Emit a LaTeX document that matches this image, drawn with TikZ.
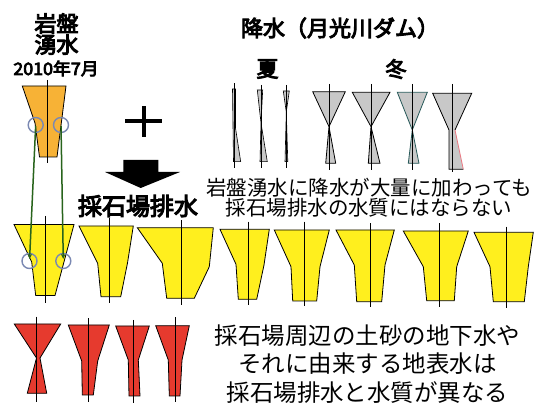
\documentclass[tikz,border=0pt]{standalone}
\usepackage{fontspec}
\usetikzlibrary{arrows.meta}
\newfontfamily\jp{Noto Sans CJK JP}
\newfontfamily\jpb{Noto Sans CJK JP}[FakeBold=4.5]
\definecolor{orangeF}{RGB}{247,178,54}
\definecolor{yellowF}{RGB}{255,239,30}
\definecolor{redF}{RGB}{230,58,46}
\definecolor{grayF}{RGB}{200,200,200}
\definecolor{circC}{RGB}{122,136,178}
\definecolor{greenC}{RGB}{40,100,28}
\definecolor{tealC}{RGB}{40,90,90}
\definecolor{pinkC}{RGB}{235,120,130}
\begin{document}
\begin{tikzpicture}[x=1pt,y=-1pt,
  outl/.style={draw=black,line width=0.8pt,line join=miter},
  ax/.style={draw=black,line width=1pt},
  circ/.style={circle,draw=circC,line width=1.4pt,minimum size=15pt,inner sep=0pt},
  garrow/.style={draw=greenC,line width=1.5pt,-{Stealth[length=5pt,width=4.5pt]}},
  btxt/.style={inner sep=0pt,font=\jpb},
  rtxt/.style={inner sep=0pt,font=\jp,align=center}]
\useasboundingbox (0,0) rectangle (539,403);
\fill[white] (0,0) rectangle (539,403);

% ---------- left column ----------
\node[btxt,font=\jpb\fontsize{22}{22}\selectfont] (t1) at (56.5,23.5) {岩盤};
\node[btxt,font=\jpb\fontsize{22}{22}\selectfont] (t2) at (56.5,44.5) {湧水};
\node[btxt,font=\jpb\fontsize{17}{17}\selectfont,xscale=1.05] (t3) at (56,68.5) {2010年7月};

% orange
\filldraw[outl,fill=orangeF] (22.3,86)--(66,86)--(57,157)--(39.5,157)--(35,123)--cycle;
\draw[ax] (47.5,80)--(47.5,163);

% yellow row
\filldraw[outl,fill=yellowF] (14,224.5)--(74,224.5)--(55,295.5)--(35.7,295.5)--(31.7,262)--cycle;
\draw[ax] (45,216)--(45,303);
\filldraw[outl,fill=yellowF] (79,226)--(133.3,226)--(127.5,263)--(120.7,296.7)--(101,296.7)--(97.7,263.3)--cycle;
\draw[ax] (109.3,218)--(109.3,302.7);
\filldraw[outl,fill=yellowF] (137.3,227.7)--(213.3,227.7)--(209.3,266.7)--(194.3,298.3)--(166.7,298.3)--(162.3,263.3)--cycle;
\draw[ax] (181.7,220)--(181.7,305);
\filldraw[outl,fill=yellowF] (220,229.3)--(269.3,229.3)--(264,265)--(256.7,299.3)--(238.3,299.3)--(236,264.3)--cycle;
\draw[ax] (248.3,221.7)--(248.3,305);
\filldraw[outl,fill=yellowF] (274.3,230)--(329.3,230)--(320,266.7)--(316.7,301)--(292.7,301)--(291,266.7)--cycle;
\draw[ax] (304.3,221.7)--(304.3,306);
\filldraw[outl,fill=yellowF] (336,230)--(394.3,230)--(385,265)--(381.7,301.7)--(356.7,301.7)--(354.3,265)--cycle;
\draw[ax] (370,223.3)--(370,306.7);
\filldraw[outl,fill=yellowF] (403.3,231)--(468.3,231)--(456.7,266.7)--(454.3,300.7)--(426.7,300.7)--(423.3,266.7)--cycle;
\draw[ax] (439.3,223.3)--(439.3,306.7);
\filldraw[outl,fill=yellowF] (474,232.3)--(533.3,232.3)--(528.3,266.7)--(524.3,301.7)--(493.3,301.7)--(490,266.7)--cycle;
\draw[ax] (506.7,226.7)--(506.7,308.3);

% circles and green connectors
\node[circ] (c1) at (35.7,125) {};
\node[circ] (c2) at (61,125) {};
\node[circ] (c3) at (29.5,261) {};
\node[circ] (c4) at (63.3,261) {};
\draw[garrow,shorten <=1pt,shorten >=2pt] (c1.center) -- (c3.center);
\draw[garrow,shorten <=1pt,shorten >=2pt] (c2.center) -- (c4.center);

% red row
\filldraw[outl,fill=redF] (14.3,324)--(60.7,324)--(40,358)--(46.7,393.3)--(27.3,393.3)--(36.5,358)--cycle;
\draw[ax] (36,316.7)--(36,401.7);
\filldraw[outl,fill=redF] (68.3,325)--(109.3,325)--(97.7,361)--(93.3,395)--(82.3,395)--(81.7,361)--cycle;
\draw[ax] (88.3,318.3)--(88.3,401.7);
\filldraw[outl,fill=redF] (115.7,326)--(149.3,326)--(138.3,360)--(140,396)--(129,396)--(128.3,360)--cycle;
\draw[ax] (133.3,320)--(133.3,402.7);
\filldraw[outl,fill=redF] (155.7,325.7)--(189.3,325.7)--(182,360)--(180,396)--(169.3,396)--(168.3,360)--cycle;
\draw[ax] (175.7,317.3)--(175.7,401.7);

% plus and arrow
\draw[line width=4pt] (125,121)--(162,121);
\draw[line width=4pt] (143.5,106.5)--(143.5,137.5);
\fill[black] (123.3,160)--(158.3,160)--(158.3,172)--(180,172)--(140.7,188)--(105,172)--(123.3,172)--cycle;

\node[btxt,font=\jpb\fontsize{24}{24}\selectfont] (t4) at (138,206) {採石場排水};

% ---------- precipitation ----------
\node[btxt,font=\jpb\fontsize{22}{22}\selectfont] (t5) at (340,28) {降水（月光川ダム）};
\node[btxt,font=\jpb\fontsize{22}{22}\selectfont] (t6) at (267.5,69) {夏};
\node[btxt,font=\jpb\fontsize{21}{21}\selectfont] (t7) at (396,69) {冬};

% summer
\filldraw[outl,line width=0.6pt,fill=grayF] (232.5,89)--(235.5,89)--(235.5,128)--(240.7,161.7)--(233.5,161.7)--cycle;
\draw[ax] (234.3,83.3)--(234.3,168.3);
\filldraw[outl,line width=0.6pt,fill=grayF] (257.3,90)--(262.7,90)--(261,123)--(267.3,161.7)--(260,161.7)--(261,123)--cycle;
\draw[ax] (261,85)--(261,168.3);
\filldraw[outl,line width=0.6pt,fill=grayF] (283.3,91)--(289.3,91)--(286.3,112)--(287.8,161.7)--(285,161.7)--(286.3,112)--cycle;
\draw[ax] (286,85)--(286,168.3);

% winter
\filldraw[outl,fill=grayF] (312.7,91.7)--(345.3,91.7)--(329,126.7)--(335.7,163.3)--(325.7,163.3)--(329,126.7)--cycle;
\draw[ax] (329.3,84)--(329.3,170);
\filldraw[outl,fill=grayF] (352.3,92.3)--(390,92.3)--(371,126.7)--(380,163.3)--(368.3,163.3)--(371,126.7)--cycle;
\draw[ax] (371,84)--(371,170);
\filldraw[outl,draw=tealC,fill=grayF] (397.3,92.3)--(427.3,92.3)--(412.3,130)--(419,163.3)--(408.3,163.3)--(412.3,130)--cycle;
\draw[ax] (412.3,84)--(412.3,170);
\fill[grayF] (432.7,93.3)--(471.7,93.3)--(455,130)--(463.3,169.3)--(449,169.3)--(449,130)--cycle;
\draw[outl] (455,130)--(471.7,93.3)--(432.7,93.3)--(449,130)--(449,169.3)--(463.3,169.3);
\draw[draw=pinkC,line width=0.8pt] (455,130)--(463.3,169.3);
\draw[ax] (452.3,84)--(452.3,172);

% ---------- texts ----------
\node[rtxt,font=\jp\fontsize{20.5}{19.5}\selectfont] (t8) at (369,197.5) {岩盤湧水に降水が大量に加わっても\\採石場排水の水質にはならない};
\node[rtxt,font=\jp\fontsize{23.5}{28.5}\selectfont] (t9) at (367.5,364) {採石場周辺の土砂の地下水や\\それに由来する地表水は\\採石場排水と水質が異なる};
\end{tikzpicture}
\end{document}
